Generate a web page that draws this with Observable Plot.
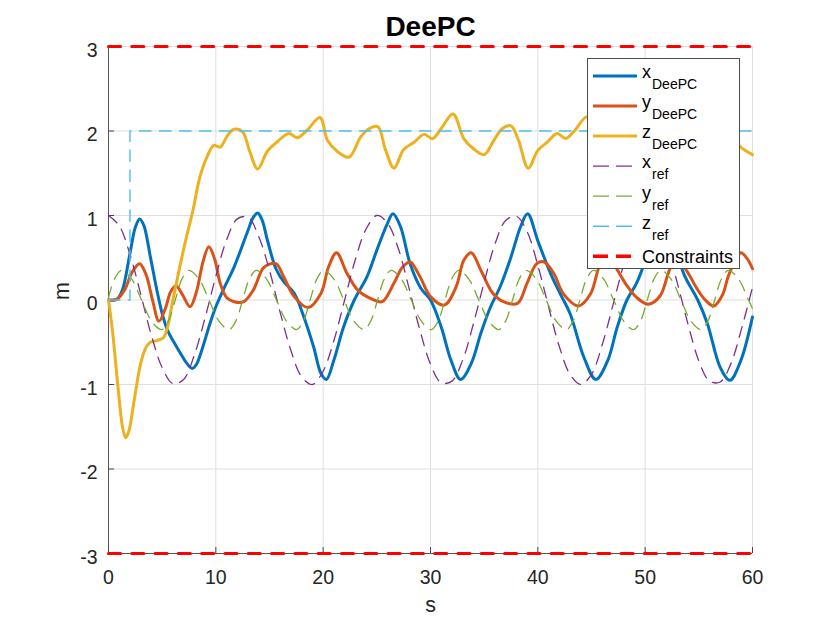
<!DOCTYPE html>
<html>
<head>
<meta charset="utf-8">
<script src="https://cdn.jsdelivr.net/npm/d3@7"></script>
<script src="https://cdn.jsdelivr.net/npm/@observablehq/plot@0.6"></script>
<style>
  html, body { margin: 0; padding: 0; background: #fff; }
  #chart { width: 830px; height: 623px; }
</style>
</head>
<body>
<div id="chart"></div>
<script>
// ---- tick values ----
const xTicks = [0, 10, 20, 30, 40, 50, 60];
const yTicks = [-3, -2, -1, 0, 1, 2, 3];

// ---- DeePC trajectories [t (s), value (m)] ----
const xDeePC = [[0,0],[0.8,0.01],[1.3,0.12],[2.0,0.55],[2.5,0.86],[2.9,0.96],[3.3,0.88],[3.9,0.51],[4.5,0.12],[5.0,-0.16],[5.5,-0.36],[6.1,-0.5],[6.7,-0.63],[7.3,-0.75],[7.8,-0.81],[8.2,-0.76],[8.6,-0.63],[9.5,-0.26],[10.0,-0.08],[10.8,0.15],[11.7,0.39],[12.9,0.79],[13.5,0.98],[13.9,1.03],[14.3,0.95],[14.8,0.71],[15.6,0.37],[16.3,0.22],[17.3,0.08],[18.2,-0.2],[19.1,-0.55],[19.8,-0.87],[20.3,-0.94],[21.0,-0.71],[21.9,-0.32],[22.9,0],[24.1,0.28],[25.0,0.59],[26.0,0.91],[26.5,1.02],[27.2,0.87],[28.1,0.43],[29.1,0.14],[30.0,0],[31.0,-0.32],[31.9,-0.71],[32.8,-0.94],[33.8,-0.75],[34.7,-0.39],[35.6,-0.08],[36.5,0.16],[37.5,0.51],[38.4,0.87],[39.05,1.02],[40.0,0.7],[41.2,0.31],[42.1,0.07],[43.0,-0.16],[44.3,-0.68],[45.4,-0.94],[46.5,-0.72],[47.4,-0.32],[48.3,0],[49.2,0.2],[50.1,0.5],[51.0,0.87],[51.6,1.02],[52.3,0.85],[53.6,0.31],[54.9,0],[55.8,-0.28],[57.0,-0.8],[57.9,-0.95],[58.9,-0.72],[60,-0.2]];

const yDeePC = [[0,0],[0.8,0.01],[1.5,0.12],[2.2,0.33],[2.9,0.43],[3.5,0.3],[4.1,0.0],[4.7,-0.25],[5.3,-0.1],[5.8,0.1],[6.3,0.17],[6.9,0.06],[7.6,-0.08],[8.2,0.1],[8.8,0.45],[9.35,0.63],[9.9,0.48],[10.4,0.2],[11.0,0.03],[11.7,-0.02],[12.6,-0.02],[13.5,0.12],[14.5,0.39],[15.6,0.43],[16.3,0.28],[17.3,0.04],[18.6,-0.09],[19.8,0.08],[20.5,0.39],[21.25,0.56],[22.2,0.32],[23.2,0.12],[24.4,0.02],[25.5,-0.02],[26.6,0.2],[27.4,0.39],[28.1,0.45],[29.0,0.28],[30.0,0.04],[31.3,-0.06],[32.4,0.16],[33.1,0.47],[33.8,0.56],[34.7,0.35],[35.8,0.08],[36.8,-0.02],[38.1,-0.04],[39.0,0.2],[39.9,0.43],[40.6,0.45],[41.5,0.31],[42.4,0.07],[43.8,-0.07],[44.9,0.07],[45.7,0.39],[46.4,0.56],[47.3,0.38],[48.3,0.17],[49.2,0.03],[50.3,-0.05],[51.4,0.05],[52.4,0.39],[53.1,0.46],[53.9,0.34],[54.8,0.14],[55.6,0.0],[56.4,-0.07],[57.2,0.06],[57.8,0.3],[58.9,0.56],[59.5,0.49],[60,0.37]];

const zDeePC = [[0,0],[0.4,-0.4],[0.9,-1.05],[1.3,-1.5],[1.6,-1.63],[1.9,-1.55],[2.4,-1.18],[3.0,-0.75],[3.5,-0.56],[3.9,-0.5],[4.5,-0.48],[5.1,-0.45],[5.5,-0.32],[6.0,0],[7.0,0.6],[7.9,1.08],[8.5,1.45],[9.2,1.7],[9.8,1.83],[10.4,1.81],[11.1,1.95],[11.7,2.02],[12.5,1.99],[13.1,1.78],[13.9,1.55],[14.8,1.76],[15.7,1.87],[16.8,1.97],[17.6,1.92],[18.5,2.01],[19.7,2.16],[20.4,1.89],[21.3,1.76],[22.4,1.69],[23.5,1.93],[24.3,2.03],[25.1,2.05],[25.8,1.78],[26.6,1.56],[27.5,1.78],[28.5,1.87],[29.4,1.96],[30.2,1.91],[31.0,2.03],[32.1,2.2],[33.1,1.91],[34.0,1.79],[35.0,1.72],[35.9,1.89],[36.7,2.03],[37.5,2.06],[38.2,1.89],[39.1,1.56],[40.0,1.77],[40.9,1.87],[41.8,1.97],[42.6,1.91],[43.4,2.0],[44.6,2.17],[45.65,1.91],[46.55,1.79],[47.55,1.72],[48.45,1.89],[49.25,2.03],[50.05,2.06],[50.75,1.89],[51.65,1.56],[52.55,1.77],[53.45,1.87],[54.35,1.97],[55.15,1.91],[55.95,2.0],[57.15,2.17],[58.2,1.91],[58.9,1.81],[60,1.72]];

// ---- references ----
const xRef = [[0,1.00],[1,0.88],[2,0.54],[3,0.07],[4,-0.42],[5,-0.80],[6,-0.99],[7,-0.94],[8,-0.65],[9,-0.21],[10,0.28],[11,0.71],[12,0.96],[13,0.98],[14,0.75],[15,0.35],[16,-0.15],[17,-0.60],[18,-0.91],[19,-1.00],[20,-0.84],[21,-0.48],[22,0.00],[23,0.48],[24,0.84],[25,1.00],[26,0.91],[27,0.61],[28,0.14],[29,-0.35],[30,-0.76],[31,-0.98],[32,-0.96],[33,-0.71],[34,-0.28],[35,0.21],[36,0.66],[37,0.94],[38,0.99],[39,0.81],[40,0.41],[41,-0.08],[42,-0.55],[43,-0.88],[44,-1.00],[45,-0.88],[46,-0.53],[47,-0.06],[48,0.42],[49,0.81],[50,0.99],[51,0.93],[52,0.65],[53,0.20],[54,-0.29],[55,-0.72],[56,-0.96],[57,-0.97],[58,-0.75],[59,-0.33],[60,0.15]];

const yRef = [[0,0.03],[0.57,0.25],
[1.2,0.35],[2.14,0.25],[3.08,0],[4.01,-0.25],[4.95,-0.35],[5.58,-0.25],[6.22,0],[6.85,0.25],
[7.48,0.35],[8.42,0.25],[9.36,0],[10.29,-0.25],[11.23,-0.35],[11.86,-0.25],[12.5,0],[13.13,0.25],
[13.77,0.35],[14.71,0.25],[15.65,0],[16.58,-0.25],[17.52,-0.35],[18.15,-0.25],[18.79,0],[19.42,0.25],
[20.05,0.35],[20.99,0.25],[21.93,0],[22.86,-0.25],[23.8,-0.35],[24.43,-0.25],[25.07,0],[25.7,0.25],
[26.33,0.35],[27.27,0.25],[28.21,0],[29.14,-0.25],[30.08,-0.35],[30.71,-0.25],[31.35,0],[31.98,0.25],
[32.62,0.35],[33.56,0.25],[34.5,0],[35.43,-0.25],[36.37,-0.35],[37.0,-0.25],[37.64,0],[38.27,0.25],
[38.9,0.35],[39.84,0.25],[40.78,0],[41.71,-0.25],[42.65,-0.35],[43.28,-0.25],[43.92,0],[44.55,0.25],
[45.18,0.35],[46.12,0.25],[47.06,0],[47.99,-0.25],[48.93,-0.35],[49.56,-0.25],[50.2,0],[50.83,0.25],
[51.46,0.35],[52.4,0.25],[53.34,0],[54.27,-0.25],[55.21,-0.35],[55.84,-0.25],[56.48,0],[57.11,0.25],
[57.75,0.35],[58.69,0.25],[59.63,0],[60,-0.1]];

const zRef = [[0,0],[2,0],[2,2],[60,2]];

const constraintLevels = [3, -3];
const tRange = [0, 60];

// ---- legend entries ----
const legendItems = [
  {main: "x", sub: "DeePC", color: "#0072BD", width: 3, dash: null},
  {main: "y", sub: "DeePC", color: "#D95319", width: 3, dash: null},
  {main: "z", sub: "DeePC", color: "#EDB120", width: 3, dash: null},
  {main: "x", sub: "ref", color: "#7E2F8E", width: 1.3, dash: "16,7"},
  {main: "y", sub: "ref", color: "#77AC30", width: 1.3, dash: "16,7"},
  {main: "z", sub: "ref", color: "#4DBEEE", width: 1.3, dash: "16,7"},
  {main: "Constraints", sub: null, color: "#FF0000", width: 3.5, dash: "15,8"}
];

const W = 830, H = 623, mL = 108, mR = 78, mT = 46, mB = 70;
const frameW = W - mL - mR, frameH = H - mT - mB;
const font = "'Liberation Sans', Arial, Helvetica, sans-serif";

const constraintRows = constraintLevels.flatMap(c => tRange.map(t => ({t, v: c, c})));

const chart = Plot.plot({
  width: W, height: H,
  marginLeft: mL, marginRight: mR, marginTop: mT, marginBottom: mB,
  x: {domain: [0, 60]},
  y: {domain: [-3, 3]},
  style: {fontFamily: font, background: "#fff", overflow: "visible"},
  marks: [
    Plot.gridX(xTicks, {stroke: "#dfdfdf", strokeOpacity: 1, strokeWidth: 1}),
    Plot.gridY(yTicks, {stroke: "#dfdfdf", strokeOpacity: 1, strokeWidth: 1}),
    Plot.ruleX([0], {stroke: "#555", strokeWidth: 1}),
    Plot.ruleY([-3], {stroke: "#555", strokeWidth: 1}),
    Plot.tickX(xTicks, {x: d => d, stroke: "#444", insetTop: frameH - 6}),
    Plot.tickY(yTicks, {y: d => d, stroke: "#444", insetRight: frameW - 6}),
    Plot.line(xDeePC, {x: d => d[0], y: d => d[1], stroke: "#0072BD", strokeWidth: 3, curve: "catmull-rom"}),
    Plot.line(yDeePC, {x: d => d[0], y: d => d[1], stroke: "#D95319", strokeWidth: 3, curve: "catmull-rom"}),
    Plot.line(zDeePC, {x: d => d[0], y: d => d[1], stroke: "#EDB120", strokeWidth: 3, curve: "catmull-rom"}),
    Plot.line(xRef, {x: d => d[0], y: d => d[1], stroke: "#7E2F8E", strokeWidth: 1.3, strokeDasharray: "11,8", curve: "catmull-rom"}),
    Plot.line(yRef, {x: d => d[0], y: d => d[1], stroke: "#77AC30", strokeWidth: 1.3, strokeDasharray: "11,8", curve: "catmull-rom"}),
    Plot.line(zRef, {x: d => d[0], y: d => d[1], stroke: "#4DBEEE", strokeWidth: 1.4, strokeDasharray: "11.5,8.5"}),
    Plot.line(constraintRows, {x: "t", y: "v", z: "c", stroke: "#FF0000", strokeWidth: 3.2, strokeDasharray: "12,11.3"}),
    Plot.axisX(xTicks, {tickSize: 0, tickPadding: 17, fontSize: 19.5, fill: "#262626", label: null, tickFormat: d => String(d)}),
    Plot.axisY(yTicks, {tickSize: 0, tickPadding: 11, dy: 4, fontSize: 19.5, fill: "#262626", label: null, tickFormat: d => String(d)}),
    Plot.text(["DeePC"], {text: d => d, frameAnchor: "top", lineAnchor: "bottom", dy: -11, fontSize: 28, fontWeight: "bold", fill: "#000"}),
    Plot.text(["s"], {text: d => d, frameAnchor: "bottom", lineAnchor: "bottom", dy: 58, fontSize: 21.5, fill: "#262626"}),
    Plot.text(["m"], {text: d => d, frameAnchor: "left", dx: -46, rotate: -90, fontSize: 21.5, fill: "#262626"})
  ]
});

document.getElementById("chart").appendChild(chart);

// ---- legend box (MATLAB style, top-right inside axes) ----
const svg = d3.select(chart);
const lg = svg.append("g").attr("font-family", font).attr("text-anchor", "start");
const lx = 587.5, ly = 58.5, lw = 152, lh = 210;
lg.append("rect").attr("x", lx).attr("y", ly).attr("width", lw).attr("height", lh)
  .attr("fill", "#fff").attr("stroke", "#4d4d4d").attr("stroke-width", 1);
legendItems.forEach((it, i) => {
  const cy = 76 + 30.05 * i;
  const ln = lg.append("line").attr("x1", 593).attr("x2", 637).attr("y1", cy).attr("y2", cy)
    .attr("stroke", it.color).attr("stroke-width", it.width);
  if (it.dash) ln.attr("stroke-dasharray", it.dash);
  if (it.sub) {
    const t = lg.append("text").attr("x", 642).attr("y", cy + 2.3).attr("font-size", 18)
      .attr("fill", "#000").attr("text-anchor", "start");
    t.append("tspan").text(it.main);
    t.append("tspan").attr("font-size", 14).attr("dy", 11).attr("dx", 1).text(it.sub);
  } else {
    lg.append("text").attr("x", 642).attr("y", cy + 6.3).attr("font-size", 18)
      .attr("fill", "#000").attr("text-anchor", "start").text(it.main);
  }
});
</script>
</body>
</html>
